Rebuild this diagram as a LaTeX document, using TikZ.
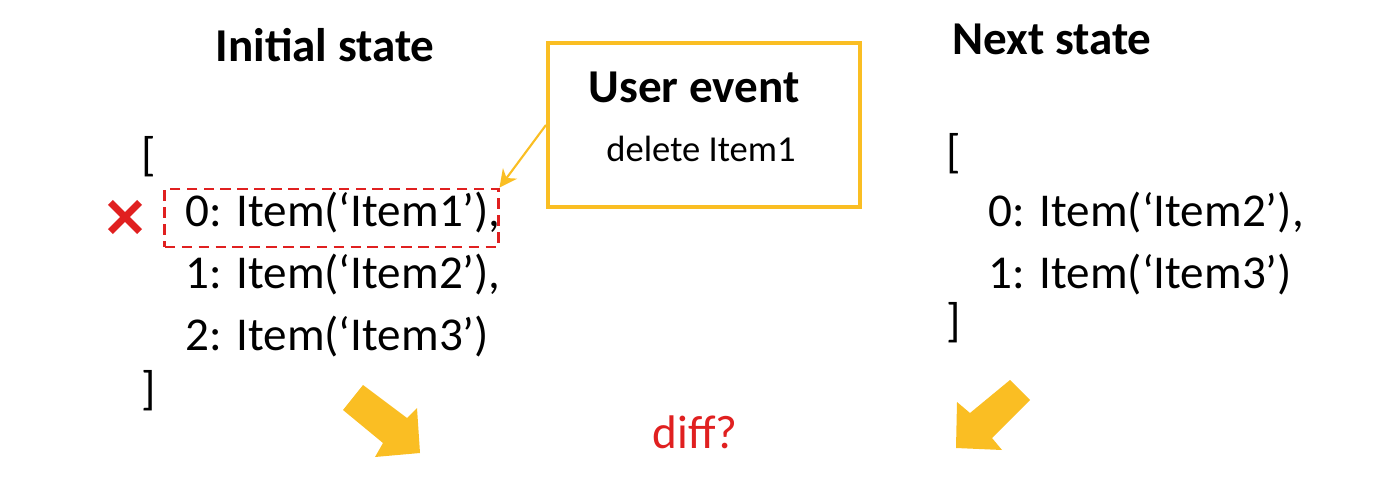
\documentclass[tikz,border=0pt]{standalone}
\usepackage{fontspec}
\setmainfont{Carlito}
\usetikzlibrary{arrows.meta,shapes.misc}
\definecolor{evyellow}{RGB}{250,190,35}
\definecolor{delred}{RGB}{224,32,32}
\begin{document}
\begin{tikzpicture}[x=0.01cm,y=-0.01cm,
        txt/.style = {inner sep=0pt,font=\fontsize{13.4}{16}\selectfont},
        title/.style = {inner sep=0pt,anchor=base,font=\fontsize{13.4}{16}\selectfont\bfseries},
        line/.style = {txt,anchor=base west},
        bigarrow/.style = {fill=evyellow},
        callout/.style = {evyellow,line width=0.6pt,-{Stealth[length=5pt,width=5pt]}}]
    \useasboundingbox (0,0) rectangle (1400,488);

    % titles
    \node[title] (inittitle) at (325,62) {Initial state};
    \node[title] (nexttitle) at (1052,55) {Next state};

    % initial list
    \node[line] (lopen) at (141,170) {[};
    \node[line] (litem0) at (185,226) {0: Item(‘Item1’),};
    \node[line] (litem1) at (185,288) {1: Item(‘Item2’),};
    \node[line] (litem2) at (185,350) {2: Item(‘Item3’)};
    \node[line] (lclose) at (141,404) {]};

    % next list
    \node[line] (ropen) at (946,168) {[};
    \node[line] (ritem0) at (988,226) {0: Item(‘Item2’),};
    \node[line] (ritem1) at (988,288) {1: Item(‘Item3’)};
    \node[line] (rclose) at (946,336) {]};

    % deleted item
    \node[draw=delred,line width=0.8pt,dash pattern=on 3pt off 1.8pt,
          minimum width=3.33cm,minimum height=0.58cm] (del) at (331.5,218) {};
    \node[cross out,draw=delred,line width=2pt,minimum size=0.22cm,inner sep=0pt]
          (mark) at (125,217) {};

    % user event
    \node[draw=evyellow,line width=1.1pt,minimum width=3.12cm,minimum height=1.64cm]
          (event) at (704,125) {};
    \node[title] (evtitle) at (694,103) {User event};
    \node[txt,anchor=base,font=\fontsize{10.4}{12}\selectfont] (evtext) at (701,162) {delete Item1};
    \draw[callout] (event.west) -- (del.north east);

    % diff
    \fill[bigarrow] (363,385) -- (407,418) -- (417,408) -- (420,453)
        -- (375,457) -- (383,443) -- (343,410) -- cycle;
    \fill[bigarrow] (1010,380) -- (1030,400) -- (992,438) -- (1002,450)
        -- (956,448) -- (957,402) -- (970,413) -- cycle;
    \node[txt,anchor=base,text=delred] (diff) at (695,448) {diff?};
\end{tikzpicture}
\end{document}
